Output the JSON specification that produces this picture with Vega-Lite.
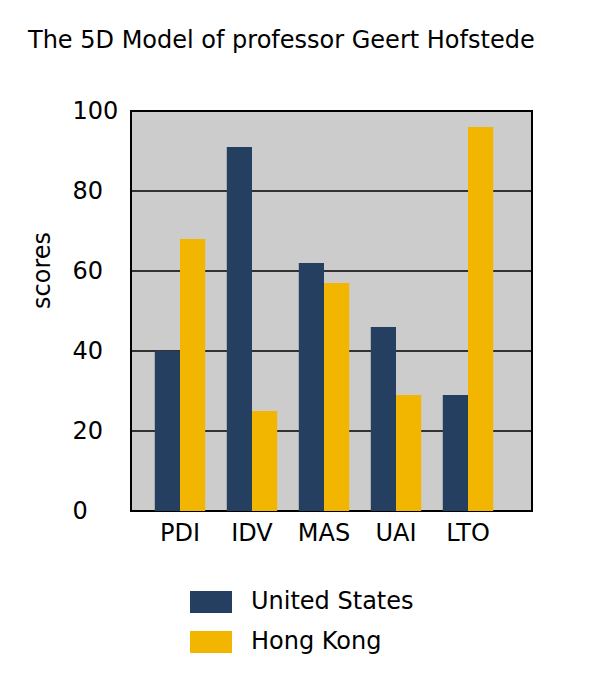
{
  "$schema": "https://vega.github.io/schema/vega-lite/v6.json",
  "width": 401,
  "height": 400,
  "autosize": "none",
  "padding": {"left": 131, "top": 111, "right": 69, "bottom": 172},
  "background": "white",
  "title": {
    "text": "The 5D Model of professor Geert Hofstede",
    "anchor": "start",
    "frame": "group",
    "font": "DejaVu Sans",
    "fontSize": 24,
    "fontWeight": "normal",
    "color": "#000000",
    "dx": -103,
    "baseline": "alphabetic",
    "offset": 27
  },
  "datasets": {
    "scores": [
      {"dimension": "PDI", "country": "United States", "score": 40},
      {"dimension": "PDI", "country": "Hong Kong", "score": 68},
      {"dimension": "IDV", "country": "United States", "score": 91},
      {"dimension": "IDV", "country": "Hong Kong", "score": 25},
      {"dimension": "MAS", "country": "United States", "score": 62},
      {"dimension": "MAS", "country": "Hong Kong", "score": 57},
      {"dimension": "UAI", "country": "United States", "score": 46},
      {"dimension": "UAI", "country": "Hong Kong", "score": 29},
      {"dimension": "LTO", "country": "United States", "score": 29},
      {"dimension": "LTO", "country": "Hong Kong", "score": 96}
    ],
    "grid": [
      {"score": 20}, {"score": 40}, {"score": 60}, {"score": 80}
    ]
  },
  "layer": [
    {
      "data": {"name": "grid"},
      "mark": {"type": "rule", "color": "#000000", "strokeWidth": 1.5},
      "encoding": {
        "y": {"field": "score", "type": "quantitative"}
      }
    },
    {
      "data": {"name": "scores"},
      "mark": {"type": "bar"},
      "encoding": {
        "x": {
          "field": "dimension",
          "type": "nominal",
          "sort": ["PDI", "IDV", "MAS", "UAI", "LTO"],
          "scale": {"range": [13, 373], "paddingInner": 0.3, "paddingOuter": 0.15},
          "axis": {
            "title": null,
            "labelAngle": 0,
            "domain": false,
            "ticks": false,
            "tickSize": 0,
            "labelPadding": 10,
            "labelFont": "DejaVu Sans",
            "labelFontSize": 24,
            "labelColor": "#000000",
            "grid": false
          }
        },
        "xOffset": {
          "field": "country",
          "type": "nominal",
          "sort": ["United States", "Hong Kong"],
          "scale": {"paddingInner": 0, "paddingOuter": 0}
        },
        "y": {
          "field": "score",
          "type": "quantitative",
          "scale": {"domain": [0, 100], "nice": false},
          "axis": {
            "title": "scores",
            "values": [0, 20, 40, 60, 80, 100],
            "domain": false,
            "ticks": false,
            "tickSize": 0,
            "labelAlign": "left",
            "labelPadding": 59,
            "labelFont": "DejaVu Sans",
            "labelFontSize": 24,
            "labelColor": "#000000",
            "grid": false,
            "titleFont": "DejaVu Sans",
            "titleFontSize": 24,
            "titleFontWeight": "normal",
            "titleColor": "#000000",
            "titleAngle": -90,
            "titleAlign": "center",
            "titleBaseline": "middle",
            "titleX": -89,
            "titleY": 159
          }
        },
        "color": {
          "field": "country",
          "type": "nominal",
          "sort": ["United States", "Hong Kong"],
          "scale": {"domain": ["United States", "Hong Kong"], "range": ["#243f5f", "#f2b600"]},
          "legend": {
            "title": null,
            "orient": "none",
            "legendX": 59,
            "legendY": 470,
            "padding": 0,
            "symbolType": "M-1,-0.52H1V0.52H-1Z",
            "symbolSize": 1764,
            "symbolStrokeWidth": 0,
            "symbolOpacity": 1,
            "labelFont": "DejaVu Sans",
            "labelFontSize": 24,
            "labelColor": "#000000",
            "labelOffset": 19,
            "rowPadding": 7,
            "labelLimit": 400
          }
        }
      }
    }
  ],
  "config": {
    "view": {"fill": "#cccccc", "stroke": "#000000", "strokeWidth": 2}
  }
}
